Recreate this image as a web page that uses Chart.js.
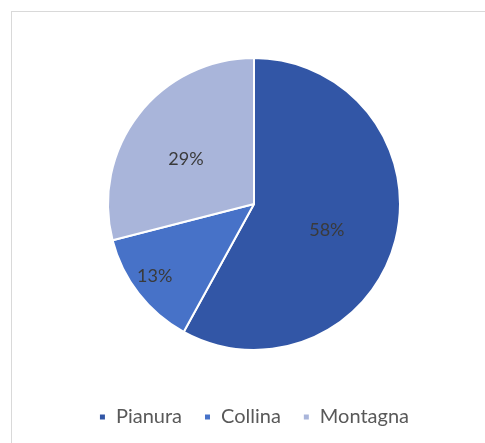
<!DOCTYPE html>
<html>
<head>
<meta charset="utf-8">
<script src="https://cdn.jsdelivr.net/npm/chart.js@4"></script>
<style>
    html, body { margin: 0; padding: 0; background: #fff; }
    #wrap { position: relative; width: 485px; height: 443px; }
</style>
</head>
<body>
<div id="wrap"><canvas id="pieChart" width="485" height="443"></canvas></div>
<script>
const labels = ["Pianura", "Collina", "Montagna"];
const values = [58, 13, 29];
const colors = ["#3256a6", "#4772c8", "#a9b5da"];
// where each percentage sits: fraction of radius, fraction along the slice
const labelRadius = [0.53, 0.84, 0.56];
const labelAngle = [0.525, 0.54, 0.46];

const fontFamily = "Lato, 'Open Sans', sans-serif";

// thin grey frame round the chart, like an office chart box
const framePlugin = {
    id: "frame",
    beforeDraw: (chart) => {
        const ctx = chart.ctx;
        ctx.save();
        ctx.strokeStyle = "#d9d9d9";
        ctx.lineWidth = 1;
        ctx.strokeRect(11.5, 11.5, 600, 600);
        ctx.restore();
    }
};

// percentage text inside each slice
const pctPlugin = {
    id: "pctLabels",
    afterDatasetsDraw: (chart) => {
        const ctx = chart.ctx;
        const meta = chart.getDatasetMeta(0);
        const total = values.reduce((a, b) => a + b, 0);
        ctx.save();
        ctx.font = `18px ${fontFamily}`;
        ctx.fillStyle = "#3a3a3a";
        ctx.textAlign = "center";
        ctx.textBaseline = "middle";
        meta.data.forEach((arc, i) => {
            const p = arc.getProps(["x", "y", "startAngle", "endAngle", "outerRadius"], true);
            const a = p.startAngle + (p.endAngle - p.startAngle) * labelAngle[i];
            const r = p.outerRadius * labelRadius[i];
            const txt = Math.round(values[i] / total * 100) + "%";
            ctx.fillText(txt, p.x + Math.cos(a) * r, p.y + Math.sin(a) * r);
        });
        ctx.restore();
    }
};

const initChart = () => {
    const ctx = document.getElementById("pieChart").getContext("2d");
    new Chart(ctx, {
        type: "pie",
        data: {
            labels: labels,
            datasets: [{
                data: values,
                backgroundColor: colors,
                borderColor: "#ffffff",
                borderWidth: 2,
                radius: 146
            }]
        },
        options: {
            responsive: false,
            animation: false,
            layout: {
                padding: { left: 23, right: 0, top: 23, bottom: 6 }
            },
            plugins: {
                tooltip: { enabled: false },
                legend: {
                    position: "bottom",
                    labels: {
                        boxWidth: 7,
                        boxHeight: 7,
                        padding: 22,
                        color: "#595959",
                        font: { family: fontFamily, size: 20 }
                    }
                }
            }
        },
        plugins: [framePlugin, pctPlugin]
    });
};

window.addEventListener("load", () => {
    initChart();
});
</script>
</body>
</html>
